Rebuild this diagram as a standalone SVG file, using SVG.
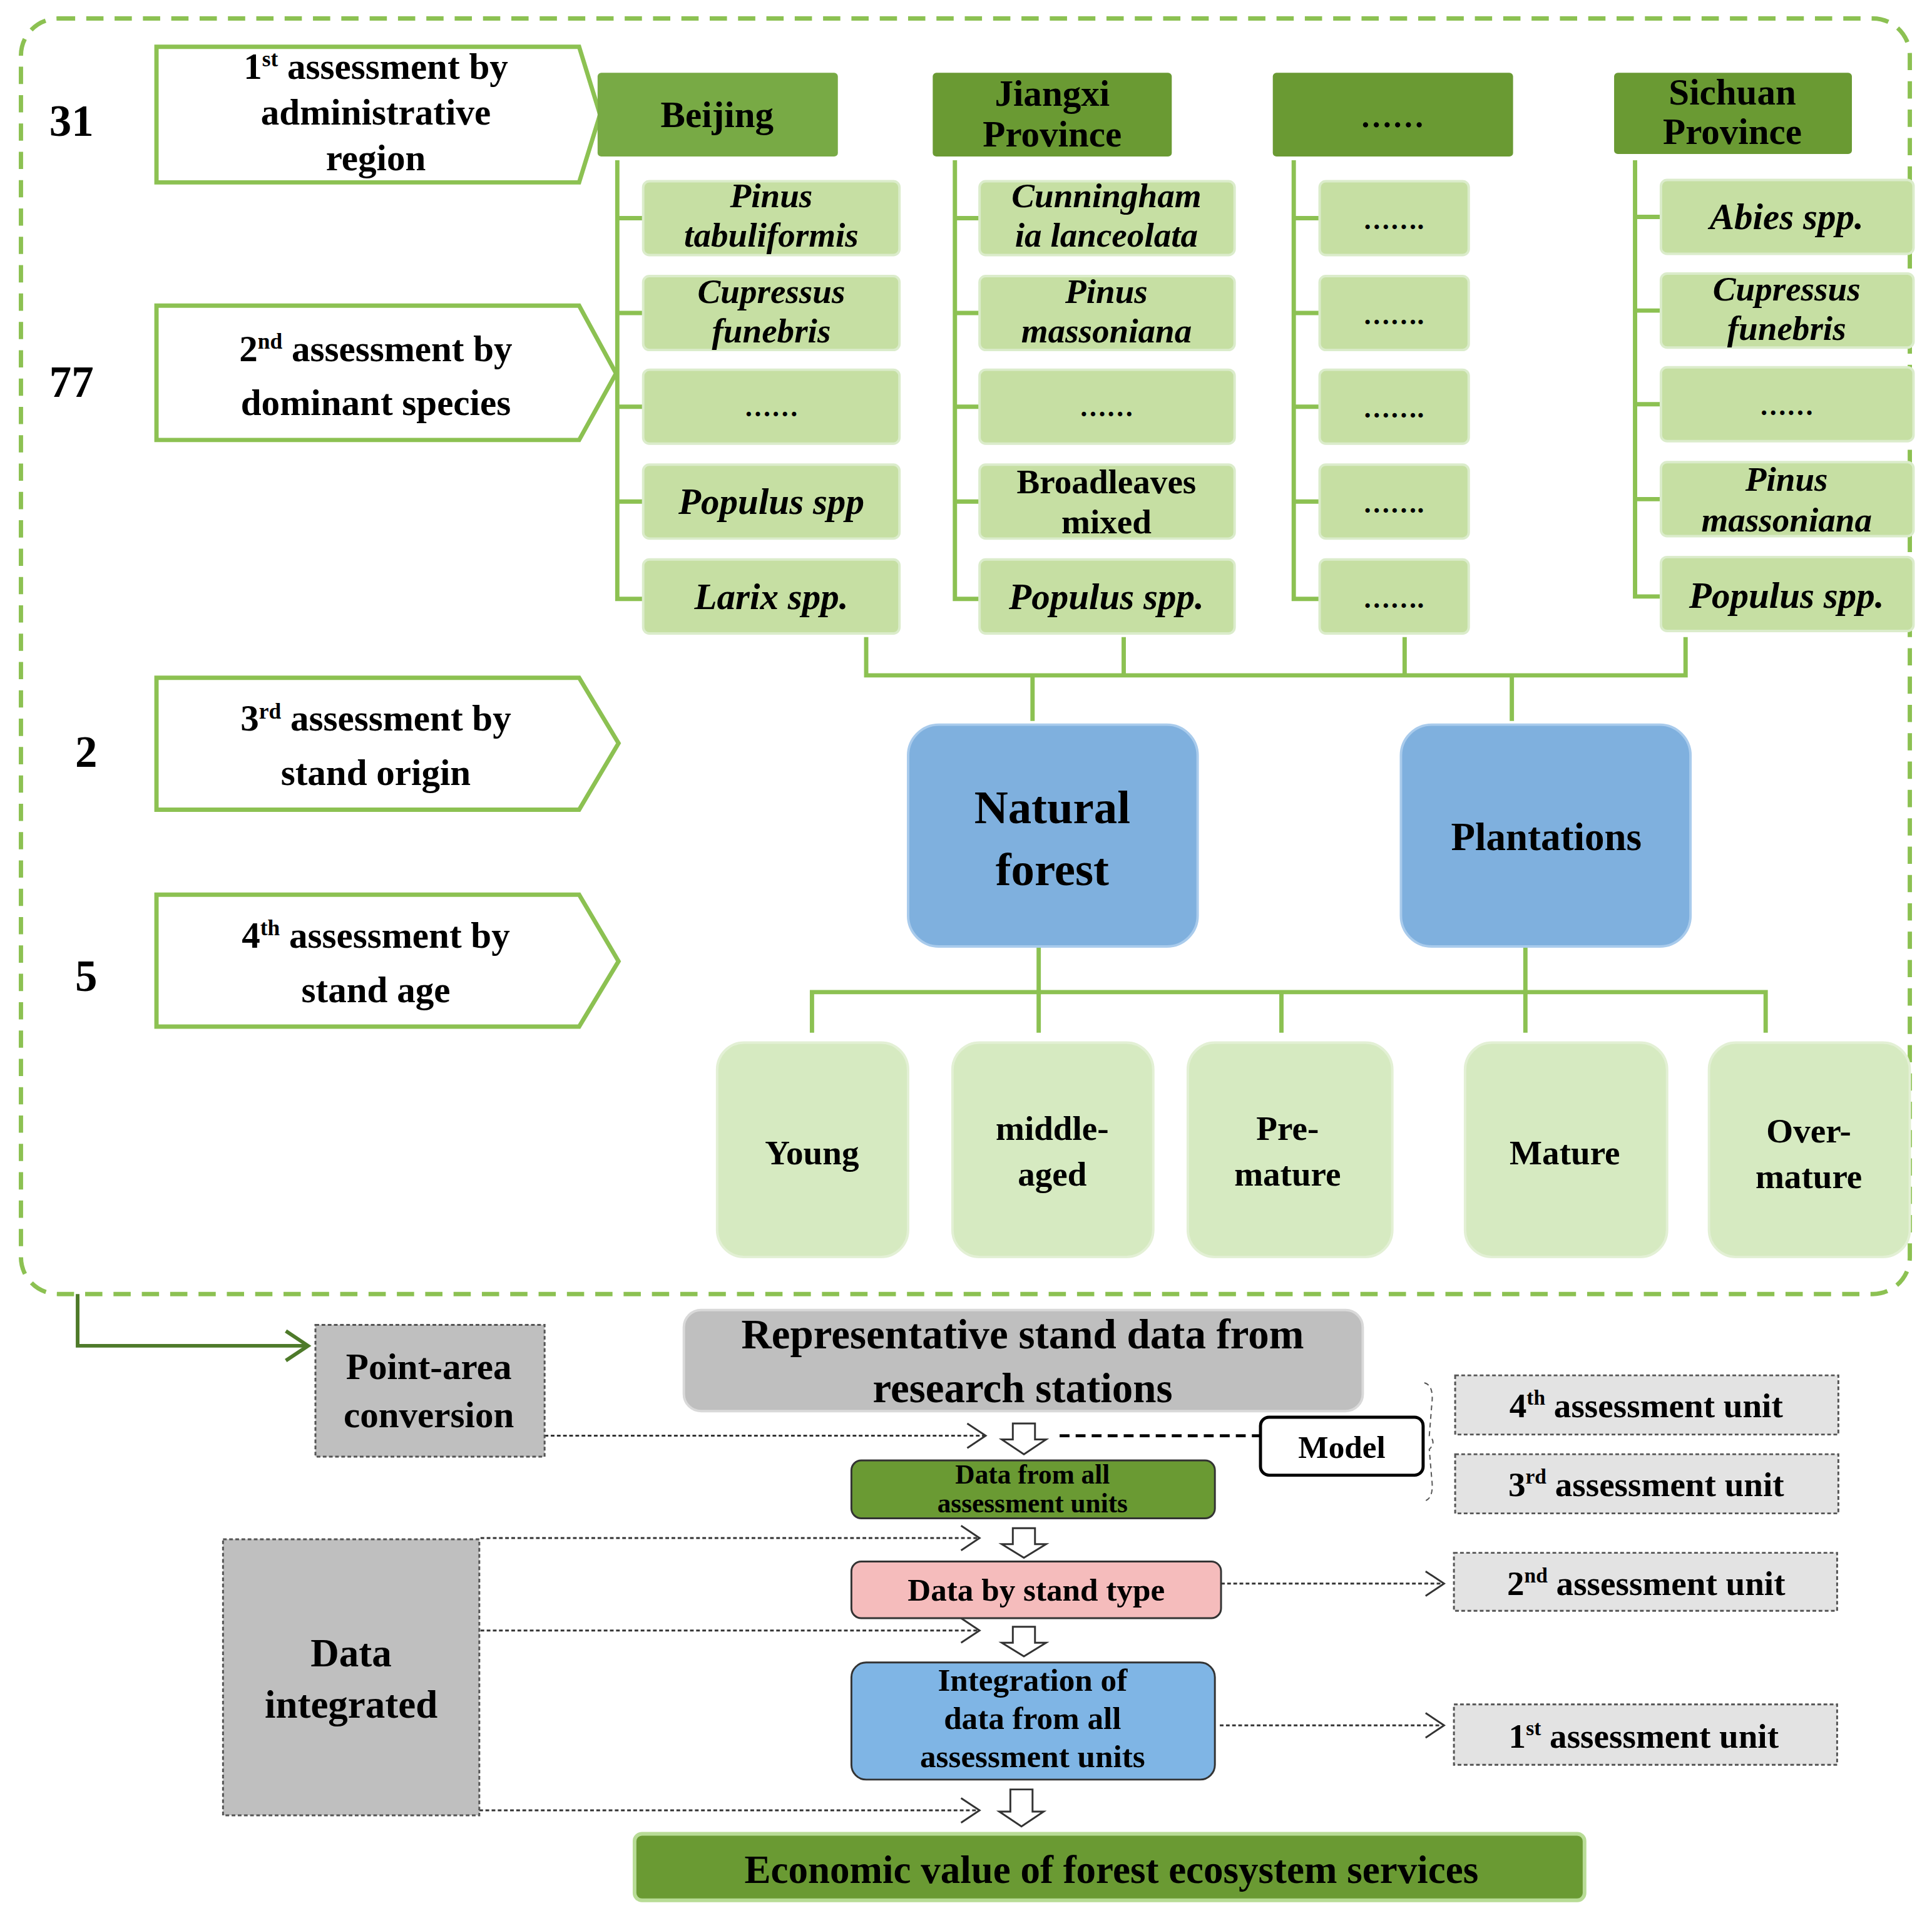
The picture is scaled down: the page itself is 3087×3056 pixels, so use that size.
<svg xmlns="http://www.w3.org/2000/svg" width="3087" height="3056" viewBox="0 0 3087 3056">
<defs>
<style>
text{font-family:"Liberation Serif",serif;font-weight:bold;fill:#000;text-anchor:middle}
.it{font-style:italic}
.pent{fill:#fff;stroke:#8cc152;stroke-width:3.5}
.prov{fill:#6a9a33}
.sp{fill:#c6dfa3;stroke:#dbeccb;stroke-width:2}
.tree{fill:none;stroke:#8cc152;stroke-width:3.5}
.age{fill:#d6eac1;stroke:#e3f0d5;stroke-width:2}
.blue{fill:#7fb0de;stroke:#a9cbec;stroke-width:2}
.gray{fill:#bfbfbf;stroke:#555;stroke-width:1.5;stroke-dasharray:3 2}
.unit{fill:#e3e3e3;stroke:#555;stroke-width:1.5;stroke-dasharray:3 2}
.dot{fill:none;stroke:#333;stroke-width:1.5;stroke-dasharray:3 2}
.chev{fill:none;stroke:#333;stroke-width:1.5}
.hol{fill:#fff;stroke:#333;stroke-width:1.5}
</style>
</defs>
<rect width="3087" height="3056" fill="#fff"/>
<g transform="scale(1.96875)">
<rect x="17" y="15" width="1533" height="1035" rx="30" fill="none" stroke="#8cc152" stroke-width="3.5" stroke-dasharray="14 9"/>
<g id="numbers" font-size="36">
<text x="58" y="110" font-size="36">31</text>
<text x="58" y="322" font-size="36">77</text>
<text x="70" y="622" font-size="36">2</text>
<text x="70" y="804" font-size="36">5</text>
</g>
<g id="level1"><polygon class="pent" points="127,38 470,38 487,93 470,148 127,148"/>
<text font-size="30"><tspan x="305" y="64">1<tspan font-size="18" dy="-10">st</tspan><tspan dy="10"> assessment by</tspan></tspan><tspan x="305" y="101">administrative</tspan><tspan x="305" y="138">region</tspan></text></g>
<g id="level2"><polygon class="pent" points="127,248 470,248 500,303 470,357 127,357"/>
<text font-size="30"><tspan x="305" y="293">2<tspan font-size="18" dy="-10">nd</tspan><tspan dy="10"> assessment by</tspan></tspan><tspan x="305" y="337">dominant species</tspan></text></g>
<g id="level3"><polygon class="pent" points="127,550 470,550 502,603 470,657 127,657"/>
<text font-size="30"><tspan x="305" y="593">3<tspan font-size="18" dy="-10">rd</tspan><tspan dy="10"> assessment by</tspan></tspan><tspan x="305" y="637">stand origin</tspan></text></g>
<g id="level4"><polygon class="pent" points="127,726 470,726 502,780 470,833 127,833"/>
<text font-size="30"><tspan x="305" y="769">4<tspan font-size="18" dy="-10">th</tspan><tspan dy="10"> assessment by</tspan></tspan><tspan x="305" y="813">stand age</tspan></text></g>

<g id="connectors">
<path class="tree" d="M501,130V486H522M501,177H522M501,254H522M501,330H522M501,407H522"/>
<path class="tree" d="M775,130V486H795M775,177H795M775,254H795M775,330H795M775,407H795"/>
<path class="tree" d="M1050,130V486H1071M1050,177H1071M1050,254H1071M1050,330H1071M1050,407H1071"/>
<path class="tree" d="M1327,130V484H1348M1327,176H1348M1327,252H1348M1327,328H1348M1327,405H1348"/>
<path class="tree" d="M703,517V548H1368V517M912,517V548M1140,517V548M838,548V585M1227,548V585"/>
<path class="tree" d="M843,768V805M1238,768V805M659,838V805H1433V838M843,805V838M1040,805V838M1238,805V838"/>
<path d="M63,1050V1092H248" fill="none" stroke="#4e7a2a" stroke-width="3"/>
<path d="M232,1080L250,1092L232,1104" fill="none" stroke="#4e7a2a" stroke-width="3"/>
<path class="dot" d="M442,1165H800M390,1248H795M390,1323H795M389,1469H795M991,1285H1170M990,1400H1170"/>
<path class="chev" d="M785,1155L800,1165L785,1175M780,1238L795,1248L780,1258M780,1313L795,1323L780,1333M780,1459L795,1469L780,1479M1157,1275L1172,1285L1157,1295M1157,1390L1172,1400L1157,1410"/>
<path d="M860,1165H1022" stroke="#000" stroke-width="2.5" stroke-dasharray="8 5"/>
<path d="M1156,1122Q1164,1124 1162,1140L1160,1165Q1166,1170 1160,1176L1162,1200Q1164,1216 1156,1218" fill="none" stroke="#555" stroke-width="1" stroke-dasharray="4 3"/>
<path class="hol" d="M822,1155H840V1168H849L831,1180L813,1168H822Z"/>
<path class="hol" d="M822,1240H840V1253H849L831,1264L813,1253H822Z"/>
<path class="hol" d="M822,1320H840V1333H849L831,1344L813,1333H822Z"/>
<path class="hol" d="M820,1452H838V1470H847L829,1482L811,1470H820Z"/>
</g>

<g id="prov-beijing"><rect x="485" y="59" width="195" height="68" rx="3" fill="#78aa45"/><text x="582" y="103" font-size="30">Beijing</text></g>
<g id="prov-jiangxi"><rect class="prov" x="757" y="59" width="194" height="68" rx="3"/><text font-size="30"><tspan x="854" y="86">Jiangxi</tspan><tspan x="854" y="119">Province</tspan></text></g>
<g id="prov-dots"><rect class="prov" x="1033" y="59" width="195" height="68" rx="3"/><text x="1130" y="103" font-size="26">……</text></g>
<g id="prov-sichuan"><rect class="prov" x="1310" y="59" width="193" height="66" rx="3"/><text font-size="30"><tspan x="1406" y="85">Sichuan</tspan><tspan x="1406" y="117">Province</tspan></text></g>

<g id="species" font-size="28">
<rect class="sp" x="522" y="147" width="208" height="60" rx="5"/><text class="it" font-size="28"><tspan x="626" y="168">Pinus</tspan><tspan x="626" y="200">tabuliformis</tspan></text>
<rect class="sp" x="522" y="224" width="208" height="60" rx="5"/><text class="it" font-size="28"><tspan x="626" y="246">Cupressus</tspan><tspan x="626" y="278">funebris</tspan></text>
<rect class="sp" x="522" y="300" width="208" height="60" rx="5"/><text x="626" y="338" font-size="22">……</text>
<rect class="sp" x="522" y="377" width="208" height="60" rx="5"/><text class="it" x="626" y="417" font-size="30">Populus spp</text>
<rect class="sp" x="522" y="454" width="208" height="60" rx="5"/><text class="it" x="626" y="494" font-size="30">Larix spp.</text>

<rect class="sp" x="795" y="147" width="207" height="60" rx="5"/><text class="it" font-size="28"><tspan x="898" y="168">Cunningham</tspan><tspan x="898" y="200">ia lanceolata</tspan></text>
<rect class="sp" x="795" y="224" width="207" height="60" rx="5"/><text class="it" font-size="28"><tspan x="898" y="246">Pinus</tspan><tspan x="898" y="278">massoniana</tspan></text>
<rect class="sp" x="795" y="300" width="207" height="60" rx="5"/><text x="898" y="338" font-size="22">……</text>
<rect class="sp" x="795" y="377" width="207" height="60" rx="5"/><text font-size="28"><tspan x="898" y="400">Broadleaves</tspan><tspan x="898" y="433">mixed</tspan></text>
<rect class="sp" x="795" y="454" width="207" height="60" rx="5"/><text class="it" x="898" y="494" font-size="30">Populus spp.</text>

<rect class="sp" x="1071" y="147" width="121" height="60" rx="5"/><text x="1131" y="186" font-size="22">…….</text>
<rect class="sp" x="1071" y="224" width="121" height="60" rx="5"/><text x="1131" y="263" font-size="22">…….</text>
<rect class="sp" x="1071" y="300" width="121" height="60" rx="5"/><text x="1131" y="339" font-size="22">…….</text>
<rect class="sp" x="1071" y="377" width="121" height="60" rx="5"/><text x="1131" y="416" font-size="22">…….</text>
<rect class="sp" x="1071" y="454" width="121" height="60" rx="5"/><text x="1131" y="493" font-size="22">…….</text>

<rect class="sp" x="1348" y="146" width="205" height="60" rx="5"/><text class="it" x="1450" y="186" font-size="30">Abies spp.</text>
<rect class="sp" x="1348" y="222" width="205" height="60" rx="5"/><text class="it" font-size="28"><tspan x="1450" y="244">Cupressus</tspan><tspan x="1450" y="276">funebris</tspan></text>
<rect class="sp" x="1348" y="298" width="205" height="60" rx="5"/><text x="1450" y="337" font-size="22">……</text>
<rect class="sp" x="1348" y="375" width="205" height="60" rx="5"/><text class="it" font-size="28"><tspan x="1450" y="398">Pinus</tspan><tspan x="1450" y="431">massoniana</tspan></text>
<rect class="sp" x="1348" y="452" width="205" height="60" rx="5"/><text class="it" x="1450" y="493" font-size="30">Populus spp.</text>
</g>

<g id="natural"><rect class="blue" x="737" y="588" width="235" height="180" rx="25"/><text font-size="38"><tspan x="854" y="668">Natural</tspan><tspan x="854" y="718">forest</tspan></text></g>
<g id="plantations"><rect class="blue" x="1137" y="588" width="235" height="180" rx="25"/><text x="1255" y="690" font-size="32">Plantations</text></g>

<g id="ages" font-size="28">
<rect class="age" x="582" y="846" width="155" height="174" rx="22"/><text x="659" y="945" font-size="28">Young</text>
<rect class="age" x="773" y="846" width="163" height="174" rx="22"/><text font-size="28"><tspan x="854" y="925">middle-</tspan><tspan x="854" y="962">aged</tspan></text>
<rect class="age" x="964" y="846" width="166" height="174" rx="22"/><text font-size="28"><tspan x="1045" y="925">Pre-</tspan><tspan x="1045" y="962">mature</tspan></text>
<rect class="age" x="1189" y="846" width="164" height="174" rx="22"/><text x="1270" y="945" font-size="28">Mature</text>
<rect class="age" x="1387" y="846" width="163" height="174" rx="22"/><text font-size="28"><tspan x="1468" y="927">Over-</tspan><tspan x="1468" y="964">mature</tspan></text>
</g>

<g id="point-area"><rect class="gray" x="256" y="1075" width="186" height="107"/><text font-size="30"><tspan x="348" y="1119">Point-area</tspan><tspan x="348" y="1158">conversion</tspan></text></g>
<g id="representative"><rect x="555" y="1063" width="551" height="82" rx="14" fill="#bfbfbf" stroke="#d9d9d9" stroke-width="2"/><text font-size="34"><tspan x="830" y="1094">Representative stand data from</tspan><tspan x="830" y="1138">research stations</tspan></text></g>
<g id="model"><rect x="1023" y="1150" width="132" height="47" rx="7" fill="#fff" stroke="#000" stroke-width="2.5"/><text x="1089" y="1183" font-size="26">Model</text></g>
<g id="unit4"><rect class="unit" x="1181" y="1116" width="311" height="48"/><text x="1336" y="1150" font-size="28">4<tspan font-size="17" dy="-10">th</tspan><tspan dy="10"> assessment unit</tspan></text></g>
<g id="unit3"><rect class="unit" x="1181" y="1180" width="311" height="48"/><text x="1336" y="1214" font-size="28">3<tspan font-size="17" dy="-10">rd</tspan><tspan dy="10"> assessment unit</tspan></text></g>
<g id="unit2"><rect class="unit" x="1180" y="1260" width="311" height="47"/><text x="1336" y="1294" font-size="28">2<tspan font-size="17" dy="-10">nd</tspan><tspan dy="10"> assessment unit</tspan></text></g>
<g id="unit1"><rect class="unit" x="1180" y="1383" width="311" height="49"/><text x="1334" y="1418" font-size="28">1<tspan font-size="17" dy="-10">st</tspan><tspan dy="10"> assessment unit</tspan></text></g>
<g id="data-all"><rect x="691" y="1185" width="295" height="47" rx="8" fill="#6a9a33" stroke="#333" stroke-width="1.5"/><text font-size="22"><tspan x="838" y="1204">Data from all</tspan><tspan x="838" y="1227">assessment units</tspan></text></g>
<g id="stand-type"><rect x="691" y="1267" width="300" height="46" rx="8" fill="#f5bcbc" stroke="#333" stroke-width="1.5"/><text x="841" y="1299" font-size="26">Data by stand type</text></g>
<g id="integration"><rect x="691" y="1349" width="295" height="95" rx="12" fill="#7fb5e5" stroke="#333" stroke-width="1.5"/><text font-size="26"><tspan x="838" y="1372">Integration of</tspan><tspan x="838" y="1403">data from all</tspan><tspan x="838" y="1434">assessment units</tspan></text></g>
<g id="data-integrated"><rect class="gray" x="181" y="1249" width="208" height="224"/><text font-size="32"><tspan x="285" y="1352">Data</tspan><tspan x="285" y="1394">integrated</tspan></text></g>
<g id="economic"><rect x="515" y="1488" width="771" height="54" rx="6" fill="#6a9a33" stroke="#b8dc96" stroke-width="3"/><text x="902" y="1528" font-size="32">Economic value of forest ecosystem services</text></g>
</g>
</svg>
